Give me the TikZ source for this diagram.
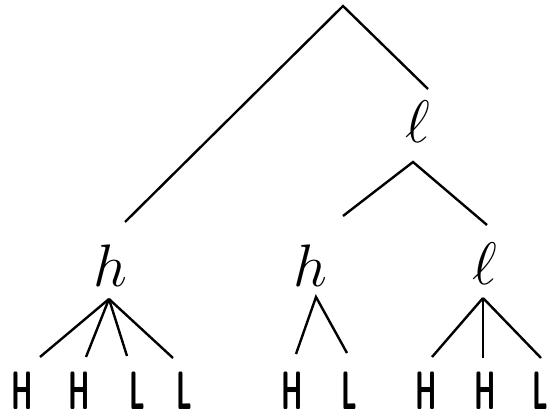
\RequirePackage{fix-cm}
\documentclass[tikz,border=0pt]{standalone}
\usepackage{graphicx}
\newcommand{\leafch}[1]{\scalebox{0.5}[1]{\sffamily\bfseries #1}}
\begin{document}
\begin{tikzpicture}[x=1pt, y=-1pt, line width=2.4pt,
		tone/.style={inner sep=0pt, font=\fontsize{60}{60}\selectfont},
		leaf/.style={inner sep=0pt, font=\fontsize{54}{54}\selectfont}]
		\useasboundingbox (0,0) rectangle (554,419);
		% 上层
		\coordinate (root) at (343,6);
		\coordinate (hAin) at (125,222);
		\coordinate (lAin) at (428,89);
		\node[tone] (lA) at (418,122) {$\ell$};
		\coordinate (lAout) at (413,162);
		\coordinate (hBin) at (343,216);
		\coordinate (lBin) at (487,225);
		\draw (hAin) -- (root) -- (lAin);
		\draw (hBin) -- (lAout) -- (lBin);
		
		% 中层
		\node[tone] (hA) at (110,266) {$h$};
		\node[tone] (hB) at (310,266) {$h$};
		\node[tone] (lB) at (485,264) {$\ell$};
		\coordinate (hAout) at (109,299);
		\coordinate (hBout) at (316,297);
		\coordinate (lBout) at (483,298);
		
		% 底层
		\node[leaf] (x1) at (22,391) {\leafch{H}};
		\node[leaf] (x2) at (79,391) {\leafch{H}};
		\node[leaf] (x3) at (137,391) {\leafch{L}};
		\node[leaf] (x4) at (184,391) {\leafch{L}};
		\node[leaf] (x5) at (292,391) {\leafch{H}};
		\node[leaf] (x6) at (349,391) {\leafch{L}};
		\node[leaf] (x7) at (426,391) {\leafch{H}};
		\node[leaf] (x8) at (485,391) {\leafch{H}};
		\node[leaf] (x9) at (540,391) {\leafch{L}};
		
		\draw (hAout) -- (40,357);
		\draw (hAout) -- (86,357);
		\draw (hAout) -- (127,356);
		\draw (hAout) -- (173,358);
		\draw (296,354) -- (hBout) -- (347,353);
		\draw (lBout) -- (432,357);
		\draw (lBout) -- (483,358);
		\draw (lBout) -- (541,358);
	\end{tikzpicture}
\end{document}
